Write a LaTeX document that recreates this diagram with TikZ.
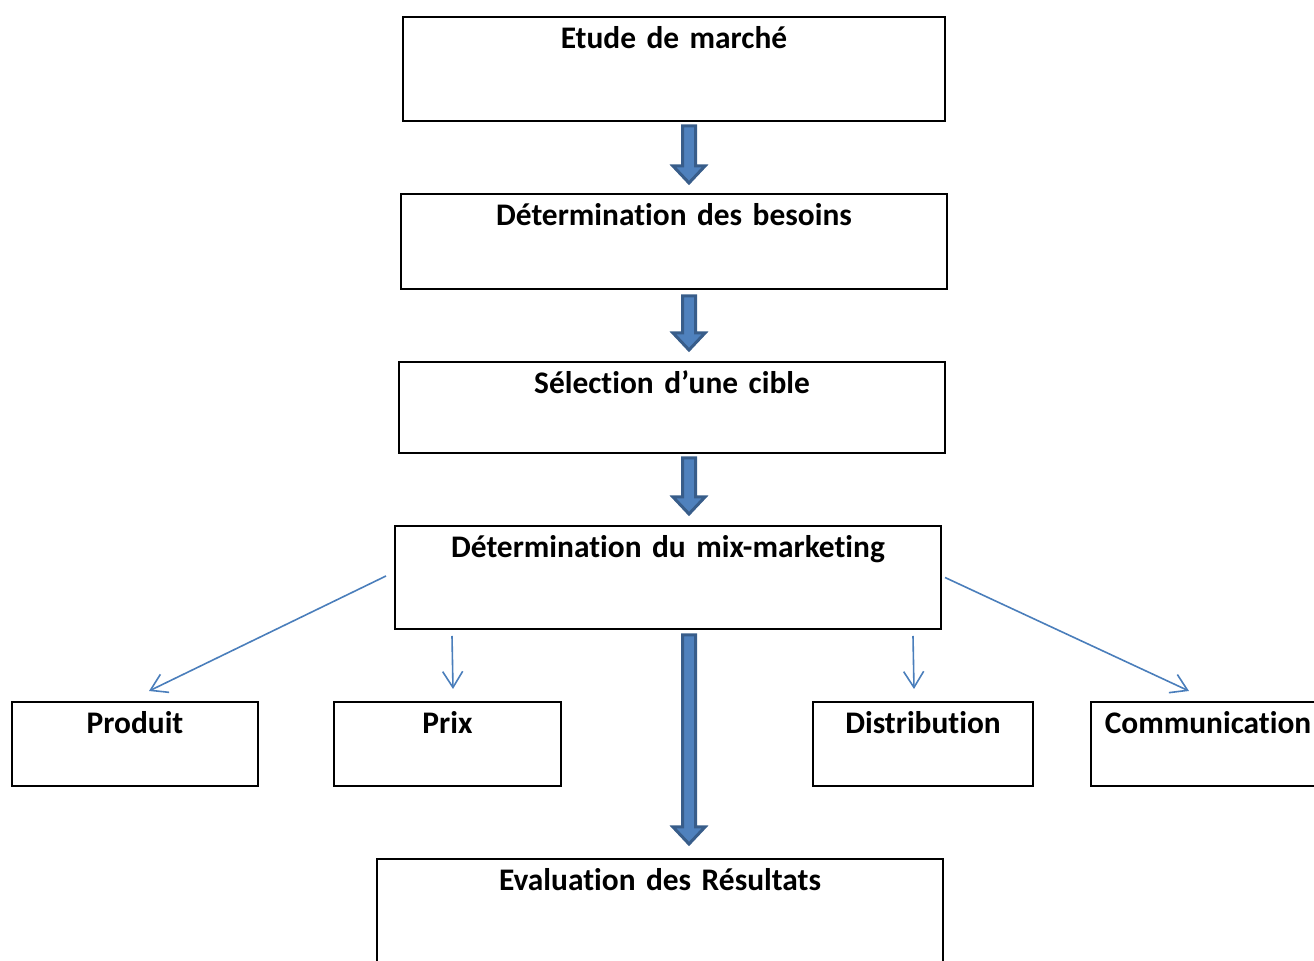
\documentclass[tikz,border=0pt]{standalone}
\usepackage{fontspec}
\setmainfont{Carlito}[Ligatures=NoCommon, WordSpace=0.8]
\usetikzlibrary{arrows.meta,calc}
\definecolor{mixLine}{HTML}{4A7EBB}
\definecolor{mixEdge}{HTML}{385D8A}
\definecolor{mixFill}{HTML}{4F81BD}

\begin{document}
\begin{tikzpicture}[
  x=0.5pt, y=-0.5pt,
  stage/.style={draw, line width=1pt, anchor=north west, inner sep=0pt, outer sep=0pt, align=center, text height=16pt, font=\bfseries\fontsize{15.7}{18}\selectfont},
  thin/.style={-{Straight Barb[length=8pt, width=10pt]}, mixLine, line width=0.8pt},
  blockarrow/.style={draw=mixEdge, fill=mixFill, line width=1.5pt, line join=miter,
    to path={($(\tikztostart)+(-6.5,0)$) -- ($(\tikztostart |- \tikztotarget)+(-6.5,-17)$) -- ($(\tikztostart |- \tikztotarget)+(-16,-17)$) -- (\tikztostart |- \tikztotarget) -- ($(\tikztostart |- \tikztotarget)+(16,-17)$) -- ($(\tikztostart |- \tikztotarget)+(6.5,-17)$) -- ($(\tikztostart)+(6.5,0)$) -- cycle}},
]
  \clip (0,0) rectangle (1314,961);
  \node[stage, text width=271pt, text depth=36pt] (etude) at (403,17) {Etude de marché};
  \node[stage, text width=273pt, text depth=31.5pt] (besoins) at (401,194) {Détermination des besoins};
  \node[stage, text width=273pt, text depth=29.5pt] (cible) at (399,362) {Sélection d’une cible};
  \node[stage, text width=273pt, text depth=35.5pt] (mix) at (395,526) {Détermination du mix-marketing};
  \node[stage, text width=123pt, text depth=26pt] (produit) at (12,702) {Produit};
  \node[stage, text width=113.5pt, text depth=26pt] (prix) at (334,702) {Prix};
  \node[stage, text width=110pt, text depth=26pt] (distribution) at (813,702) {Distribution};
  \node[stage, text width=117pt, text depth=26pt] (communication) at (1091,702) {Communication};
  \node[stage, text width=283pt, text depth=39pt] (evaluation) at (377,859) {Evaluation des Résultats};
  % block arrows
  \path[blockarrow] ($(etude.south)+(15,5)$) to ($(besoins.north)+(15,-11)$);
  \path[blockarrow] ($(besoins.south)+(15,7)$) to ($(cible.north)+(17,-12)$);
  \path[blockarrow] ($(cible.south)+(17,5)$) to ($(mix.north)+(21,-12)$);
  \path[blockarrow] ($(mix.south)+(21,6)$) to ($(evaluation.north)+(21,-15)$);
  % mix-marketing branches
  \draw[thin] ($(mix.west)+(-9,-1.5)$) -- ($(produit.north)+(14,-11)$);
  \draw[thin] ($(mix.south west)+(57,7)$) -- ($(prix.north)+(5.5,-13)$);
  \draw[thin] ($(mix.south east)+(-28,7)$) -- ($(distribution.north)+(-9,-13)$);
  \draw[thin] ($(mix.east)+(4,0)$) -- ($(communication.north)+(-19,-11)$);
\end{tikzpicture}
\end{document}
